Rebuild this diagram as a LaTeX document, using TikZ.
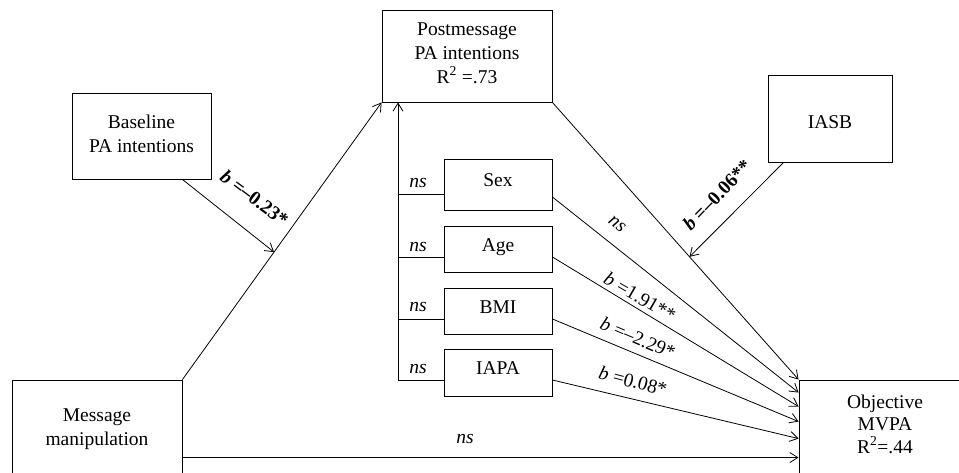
\documentclass[tikz,border=0pt]{standalone}
\usepackage{fontspec}
\setmainfont{Liberation Serif}
\usetikzlibrary{arrows.meta,calc}
\begin{document}
\begin{tikzpicture}[x=1pt,y=-1pt,
  every node/.style={font=\fontsize{19.5}{24}\selectfont},
  box/.style={draw,line width=0.9pt,inner sep=0pt,align=center},
  sbox/.style={box,minimum width=108pt,text height=14pt,text depth=10pt},
  lbl/.style={inner sep=0pt},
  arr/.style={line width=0.8pt,-{Straight Barb[length=8pt,width=10pt]}},
  ln/.style={line width=0.8pt}]
\useasboundingbox (0,0) rectangle (959,472);
\clip (0,0) rectangle (959,472);

% boxes
\node[box,minimum width=139pt,minimum height=86pt,text depth=5pt] (base) at (141.5,136) {Baseline\\PA intentions};
\node[box,minimum width=170pt,minimum height=92pt,text depth=6pt] (post) at (467,56) {Postmessage\\PA intentions\\R\textsuperscript{2} =.73};
\node[box,minimum width=124pt,minimum height=87pt,text height=19pt,text depth=0pt] (iasb) at (830,118.5) {IASB};
\node[sbox,minimum height=51pt] (sex) at (498,184.5) {Sex};
\node[sbox,minimum height=46pt] (age) at (498,249) {Age};
\node[sbox,minimum height=46pt] (bmi) at (498,311) {BMI};
\node[sbox,minimum height=47pt] (iapa) at (498,372.5) {IAPA};
\node[box,minimum width=170pt,minimum height=98pt] (msg) at (97,429) {Message\\manipulation};
\node[box,minimum width=172pt,minimum height=98pt,text depth=10pt,font=\fontsize{19.5}{22.5}\selectfont] (obj) at (885,429) {Objective\\MVPA\\R\textsuperscript{2}=.44};

% main paths
\draw[arr] (msg.north east) -- coordinate[pos=0.46] (mm) (post.south west);
\draw[arr] ([xshift=-29pt]base.south east) -- (mm);
\draw[arr] (post.south east) -- coordinate[pos=0.557] (pm) (obj.north west);
\draw[arr] ([xshift=16pt]iasb.south west) -- (pm);

% covariates to postmessage
\coordinate (vb) at (398,380);
\draw[arr] (vb) -- (vb |- post.south);
\draw[ln] ([yshift=-9.5pt]sex.west) -- ++(-46,0);
\draw[ln] ([yshift=-8pt]age.west) -- ++(-46,0);
\draw[ln] ([yshift=-8pt]bmi.west) -- ++(-46,0);
\draw[ln] ([yshift=-7.5pt]iapa.west) -- ++(-46,0);

% covariates to outcome
\draw[arr] ([yshift=-12.5pt]sex.east) -- ([yshift=-13pt]obj.north west);
\draw[arr] ([yshift=-8pt]age.east) -- ([yshift=-27pt]obj.north west);
\draw[arr] ([yshift=-8pt]bmi.east) -- ([yshift=-42pt]obj.north west);
\draw[arr] ([yshift=-7.5pt]iapa.east) -- ([yshift=-59pt]obj.north west);
\draw[arr] ([yshift=-78pt]msg.north east) -- ([yshift=-78pt]obj.north west);

% labels
\node[lbl,rotate=-37] (l1) at (254.5,198) {\textbf{\textit{b} =\textendash0.23*}};
\node[lbl,rotate=46] (l2) at (717,195) {\textbf{\textit{b} =\textendash0.06**}};
\node[lbl,rotate=-38] (l3) at (617,224) {\textit{ns}};
\node[lbl,rotate=-30] (l4) at (640,297) {\textit{b} =1.91**};
\node[lbl,rotate=-23] (l5) at (638,338) {\textit{b} =\textendash2.29*};
\node[lbl,rotate=-15] (l6) at (633,381) {\textit{b} =0.08*};
\node[lbl] (l7) at (465,439) {\textit{ns}};
\node[lbl] (t1) at (418,183) {\textit{ns}};
\node[lbl] (t2) at (418,247) {\textit{ns}};
\node[lbl] (t3) at (418,307) {\textit{ns}};
\node[lbl] (t4) at (418,369) {\textit{ns}};
\end{tikzpicture}
\end{document}
